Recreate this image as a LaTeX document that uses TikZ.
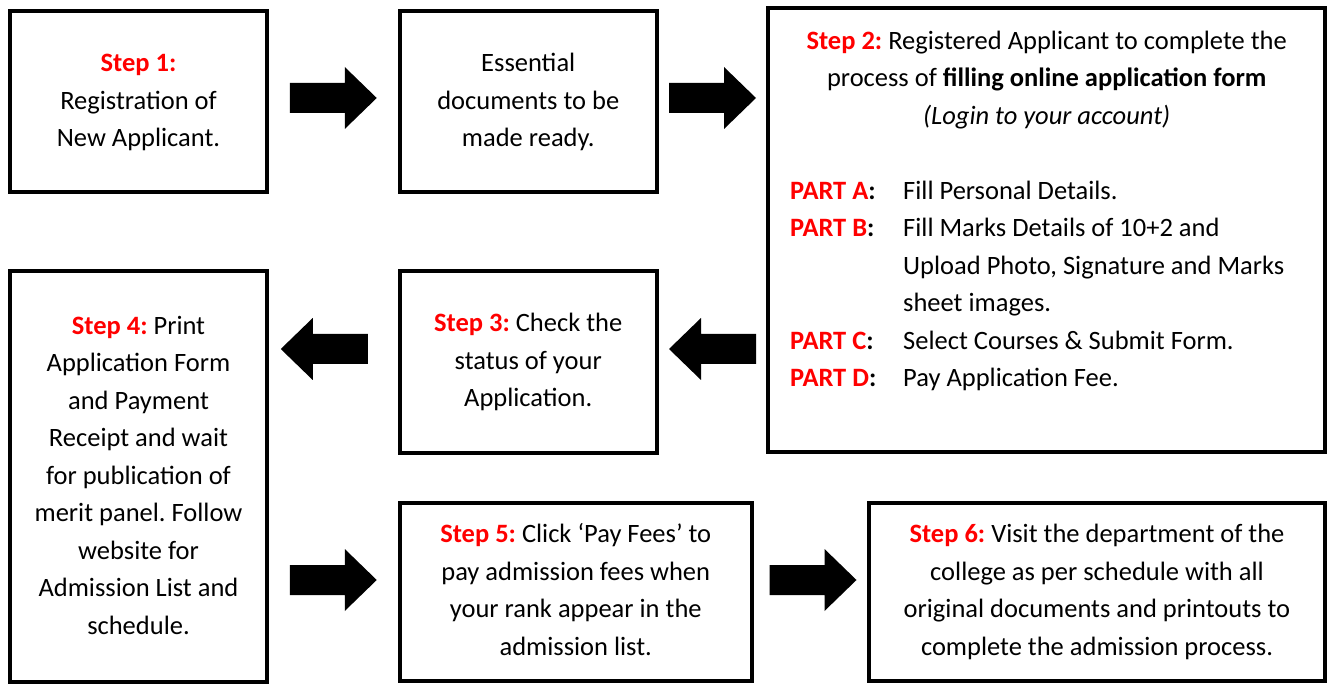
\documentclass[tikz,border=0pt]{standalone}
\usepackage{fontspec}
\setmainfont{Carlito}
\usepackage{array}
\usetikzlibrary{calc}
\frenchspacing
\definecolor{stepred}{RGB}{255,0,0}
\newcommand\redb[1]{\textcolor{stepred}{\bfseries #1}}
\tikzset{
  box/.style={draw=black, line width=4pt, rectangle, inner sep=0pt, miter limit=10},
  txt/.style={font=\fontsize{26.5}{37.5}\selectfont},
  rarrow/.pic={\fill[black] (-43.5,-15)--(11.5,-15)--(11.5,-31)--(43.5,0)--(11.5,31)--(11.5,15)--(-43.5,15)--cycle;},
  larrow/.pic={\fill[black] (43.5,-15)--(-11.5,-15)--(-11.5,-31)--(-43.5,0)--(-11.5,31)--(-11.5,15)--(43.5,15)--cycle;}
}
\begin{document}
\begin{tikzpicture}[x=1pt,y=-1pt]
\useasboundingbox (0,0) rectangle (1333,684);
% boxes
\node[box, txt, minimum width=257pt, minimum height=181.5pt] (b1) at (138.5,101.75)
  {\begin{tabular}{@{}c@{}}\redb{Step 1:}\\ Registration of\\ New Applicant.\end{tabular}};
\node[box, txt, minimum width=257.5pt, minimum height=181.5pt] (b2) at (528.25,101.75)
  {\begin{tabular}{@{}c@{}}Essential\\ documents to be\\ made ready.\end{tabular}};
\node[box, minimum width=557pt, minimum height=443.5pt] (b3) at (1046.5,230.25) {};
\node[txt, anchor=north west, inner sep=0pt] (b3t) at (790,22.75)
  {\begin{tabular}{@{}p{113pt}@{}p{400pt}@{}}
  \multicolumn{2}{@{}c@{}}{\redb{Step 2:} Registered Applicant to complete the}\\
  \multicolumn{2}{@{}c@{}}{process of \textbf{filling online application form}}\\
  \multicolumn{2}{@{}c@{}}{\textit{(Login to your account)}}\\
  & \\
  \redb{PART A}\textbf{:} & Fill Personal Details.\\
  \redb{PART B}\textbf{:} & Fill Marks Details of 10+2 and\\
  & Upload Photo, Signature and Marks\\
  & sheet images.\\
  \redb{PART C}\textbf{:} & Select Courses \& Submit Form.\\
  \redb{PART D}\textbf{:} & Pay Application Fee.
  \end{tabular}};
\node[box, txt, minimum width=257pt, minimum height=411pt] (b4) at (138.5,476.5)
  {\begin{tabular}{@{}c@{}}\redb{Step 4:} Print\\ Application Form\\ and Payment\\ Receipt and wait\\ for publication of\\ merit panel. Follow\\ website for\\ Admission List and\\ schedule.\end{tabular}};
\node[box, txt, minimum width=257.5pt, minimum height=182pt] (b5) at (528.25,362)
  {\begin{tabular}{@{}c@{}}\redb{Step 3:} Check the\\ status of your\\ Application.\end{tabular}};
\node[box, txt, minimum width=352.5pt, minimum height=178pt] (b6) at (575.75,591.5)
  {\begin{tabular}{@{}c@{}}\redb{Step 5:} Click ‘Pay Fees’ to\\ pay admission fees when\\ your rank appear in the\\ admission list.\end{tabular}};
\node[box, txt, minimum width=456pt, minimum height=178pt] (b7) at (1097,591.5)
  {\begin{tabular}{@{}c@{}}\redb{Step 6:} Visit the department of the\\ college as per schedule with all\\ original documents and printouts to\\ complete the admission process.\end{tabular}};
% block arrows
\pic[name=a1] at ($(b1.east)!0.5!(b2.west)+(0,-3.75)$) {rarrow};
\pic[name=a2] at ($(b2.east)!0.5!(b3.west |- b2.east)+(0,-3.75)$) {rarrow};
\pic[name=a3] at ($(b5.east)!0.5!(b3.west |- b5.east)+(0,-13)$) {larrow};
\pic[name=a4] at ($(b4.east |- b5.west)!0.5!(b5.west)+(-9,-13)$) {larrow};
\pic[name=a5] at ($(b4.east |- b6.west)!0.5!(b6.west)+(0,-11.5)$) {rarrow};
\pic[name=a6] at ($(b6.east)!0.5!(b7.west)+(2.5,-11.5)$) {rarrow};
\end{tikzpicture}
\end{document}
